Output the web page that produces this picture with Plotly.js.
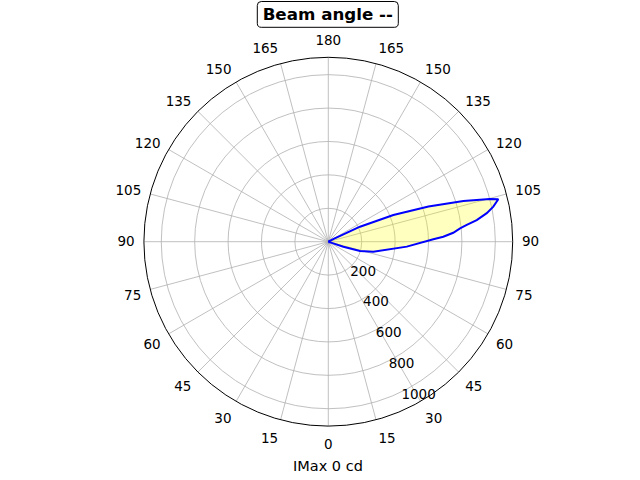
<!DOCTYPE html>
<html>
<head>
<meta charset="utf-8">
<script src="https://cdn.plot.ly/plotly-3.0.1.min.js"></script>
<style>html,body{margin:0;padding:0;background:#fff;}#chart{width:640px;height:480px;}</style>
</head>
<body>
<div id="chart"></div>
<script>
// Luminous intensity (cd) vs. angle (deg)
const angles = [0, 15, 30, 45, 60, 65, 70, 71.6, 73.6, 77.5, 86.4, 91.3, 92.5, 94.1, 95.8, 96.9, 98.3, 100.2, 102.0, 104.0, 104.8, 106.8, 109.4, 112.3, 115.3, 117, 120, 135, 150, 165, 180];
const intensity = [3, 3, 3, 3, 3, 4, 12, 95, 198, 276, 471, 629, 689, 750, 793, 835, 898, 964, 1010, 1049, 1001, 845, 636, 421, 210, 40, 3, 3, 3, 3, 3];
const radialTicks = [200, 400, 600, 800, 1000];
const radialMax = 1104;
const angleTicks = [];
const angleText = [];
for (let a = 0; a < 360; a += 15) { angleTicks.push(a); angleText.push(String(a <= 180 ? a : 360 - a)); }
const titleText = 'Beam angle --';
const xLabel = 'IMax 0 cd';

const W = 640, H = 480;
const cx = 328.3, cy = 241.7, R = 184.4;

// rounded box for title (paper coords)
const bx0 = 257.3, bx1 = 398.3, by0 = 1.5, by1 = 27.3, rr = 4;
function px(x){return (x/W).toFixed(5);}
function py(y){return (1 - y/H).toFixed(5);}
const boxPath = `M ${px(bx0+rr)},${py(by0)} L ${px(bx1-rr)},${py(by0)} Q ${px(bx1)},${py(by0)} ${px(bx1)},${py(by0+rr)} L ${px(bx1)},${py(by1-rr)} Q ${px(bx1)},${py(by1)} ${px(bx1-rr)},${py(by1)} L ${px(bx0+rr)},${py(by1)} Q ${px(bx0)},${py(by1)} ${px(bx0)},${py(by1-rr)} L ${px(bx0)},${py(by0+rr)} Q ${px(bx0)},${py(by0)} ${px(bx0+rr)},${py(by0)} Z`;

const trace = {
  type: 'scatterpolar',
  r: intensity,
  theta: angles,
  mode: 'lines',
  line: {color: '#0000ff', width: 2},
  fill: 'toself',
  fillcolor: 'rgba(255,255,0,0.25)',
  hoverinfo: 'skip'
};

const font = {family: 'DejaVu Sans', size: 13.5, color: '#000'};

const layout = {
  width: W, height: H,
  margin: {l: 0, r: 0, t: 0, b: 0},
  paper_bgcolor: '#fff',
  showlegend: false,
  font: font,
  title: {text: '<b>' + titleText + '</b>', font: {family: 'DejaVu Sans', size: 16.7, color: '#000'},
          x: 327.8/W, xanchor: 'center', y: 1 - 14.5/H, yanchor: 'middle', xref: 'paper', yref: 'paper'},
  polar: {
    domain: {x: [(cx-R)/W, (cx+R)/W], y: [1-(cy+R)/H, 1-(cy-R)/H]},
    bgcolor: '#fff',
    angularaxis: {
      rotation: -90, direction: 'counterclockwise',
      tickmode: 'array', tickvals: angleTicks, ticktext: angleText,
      showline: true, linecolor: '#000', linewidth: 1,
      showgrid: true, gridcolor: '#b0b0b0', gridwidth: 0.8,
      ticks: 'outside', ticklen: 6, tickcolor: 'rgba(0,0,0,0)',
      tickfont: font
    },
    radialaxis: {
      range: [0, radialMax], angle: -67.5,
      tickmode: 'array', tickvals: radialTicks, ticktext: radialTicks.map(String),
      showline: false, ticks: '', showgrid: true, gridcolor: '#b0b0b0', gridwidth: 0.8,
      tickfont: font, tickangle: -67.5, side: 'counterclockwise'
    }
  },
  shapes: [{type: 'path', xref: 'paper', yref: 'paper', path: boxPath,
            line: {color: '#000', width: 1}, fillcolor: '#fff', layer: 'below'}],
  annotations: [{text: xLabel, xref: 'paper', yref: 'paper', x: 328/W, y: 1 - 466/H,
                 xanchor: 'center', yanchor: 'middle', showarrow: false,
                 font: {family: 'DejaVu Sans', size: 14.5, color: '#000'}}]
};

Plotly.newPlot('chart', [trace], layout, {staticPlot: true, displayModeBar: false});
</script>
</body>
</html>
